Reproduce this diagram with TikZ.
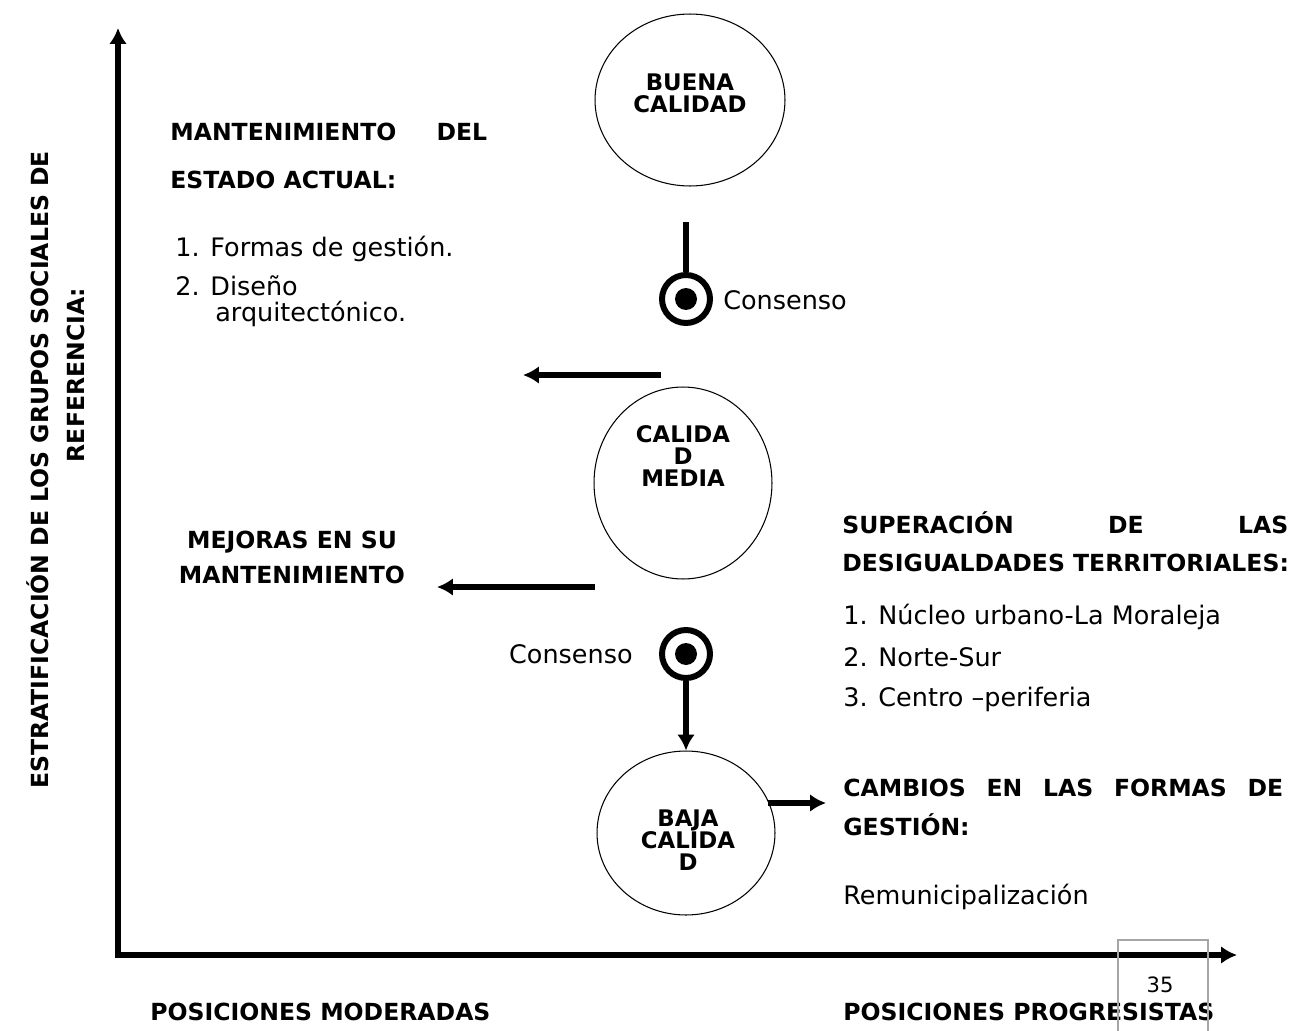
\documentclass[tikz,border=0pt]{standalone}
\usepackage{fontspec}
\setmainfont{DejaVu Sans}
\usetikzlibrary{arrows.meta,shapes.geometric,positioning}

\tikzset{
    head/.style={font=\bfseries\fontsize{13.4}{20}\selectfont, inner sep=0pt, anchor=base west},
    item/.style={font=\fontsize{14.5}{17}\selectfont, inner sep=0pt, anchor=base west},
    bub/.style={draw, ellipse, line width=0.6pt, inner sep=0pt},
    bubtxt/.style={font=\bfseries\fontsize{13}{12.5}\selectfont, align=center, inner sep=0pt},
    ring/.style={draw, circle, line width=3.4pt, minimum size=0.96cm, inner sep=0pt},
    arr/.style={line width=3pt, -{Latex[length=9pt,width=10pt]}},
}

\begin{document}
\begin{tikzpicture}[x=0.02cm,y=-0.02cm]
    \useasboundingbox (0,0) rectangle (1306,1031);
    \def\dotr{0.22cm}

    % axes
    \coordinate (o) at (118,955);
    \coordinate (ytip) at (118,28);
    \coordinate (xtip) at (1237,955);
    \draw[line width=3.2pt, {Latex[length=9pt,width=10pt]}-{Latex[length=9pt,width=10pt]}] (ytip) -- (o) -- (xtip);
    \node[head, anchor=center, rotate=90] (ylab1) at (38,470) {ESTRATIFICACIÓN DE LOS GRUPOS SOCIALES DE};
    \node[head, anchor=center, rotate=90] (ylab2) at (76,375) {REFERENCIA:};
    \node[head] (xlab1) at (150,1020) {POSICIONES MODERADAS};
    \node[head] (xlab2) at (843,1020) {POSICIONES PROGRESISTAS};
    \draw[gray!70, line width=0.8pt] (1118,1031) -- (1118,940) -- (1208,940) -- (1208,1031);
    \node[font=\fontsize{12}{14}\selectfont, inner sep=0pt] (pnum) at (1160,985) {35};

    % the three levels
    \node[bub, minimum width=3.8cm, minimum height=3.44cm] (buena) at (690,100) {};
    \node[bubtxt] (buenatxt) at (690,93) {BUENA\\CALIDAD};
    \node[bub, minimum width=3.56cm, minimum height=3.84cm] (media) at (683,483) {};
    \node[bubtxt] (mediatxt) at (683,456) {CALIDA\\D\\MEDIA};
    \node[bub, minimum width=3.56cm, minimum height=3.28cm] (baja) at (686,833) {};
    \node[bubtxt] (bajatxt) at (688,840) {BAJA\\CALIDA\\D};

    % consensus marks
    \node[ring] (ring1) at (686,299) {};
    \fill (ring1.center) circle[radius=\dotr];
    \coordinate (c1) at (686,222);
    \draw[line width=3pt] (c1) -- (ring1.north);
    \node[item, anchor=west] (cons1) at (723,300) {Consenso};

    \node[ring] (ring2) at (686,654) {};
    \fill (ring2.center) circle[radius=\dotr];
    \draw[arr] (ring2.south) -- (baja.north);
    \node[item, anchor=east] (cons2) at (633,654) {Consenso};

    % arrows to the sides
    \coordinate (a1s) at (661,375);
    \coordinate (a1e) at (523,375);
    \draw[arr] (a1s) -- (a1e);
    \coordinate (a2s) at (595,587);
    \coordinate (a2e) at (437,587);
    \draw[arr] (a2s) -- (a2e);
    \coordinate (a3s) at (768,803);
    \coordinate (a3e) at (826,803);
    \draw[arr] (a3s) -- (a3e);

    % left texts
    \node[head] (mant) at (170,140) {\makebox[6.34cm][s]{MANTENIMIENTO DEL}};
    \node[head] (estado) at (170,188) {ESTADO ACTUAL:};
    \node[item] (f1) at (175,256) {1. Formas de gestión.};
    \node[item] (f2) at (175,295) {2. Diseño};
    \node[item] (f2b) at (215,321) {arquitectónico.};
    \node[head, anchor=center, align=center] (mejoras) at (292,557) {MEJORAS EN SU\\MANTENIMIENTO};

    % right texts
    \node[head] (super) at (842,533) {\makebox[8.92cm][s]{SUPERACIÓN DE LAS}};
    \node[head] (desig) at (842,571) {DESIGUALDADES TERRITORIALES:};
    \node[item] (d1) at (843,624) {1. Núcleo urbano-La Moraleja};
    \node[item] (d2) at (843,666) {2. Norte-Sur};
    \node[item] (d3) at (843,706) {3. Centro –periferia};
    \node[head] (camb) at (843,796) {\makebox[8.8cm][s]{CAMBIOS EN LAS FORMAS DE}};
    \node[head] (gest) at (843,835) {GESTIÓN:};
    \node[item] (remu) at (843,904) {Remunicipalización};
\end{tikzpicture}
\end{document}
